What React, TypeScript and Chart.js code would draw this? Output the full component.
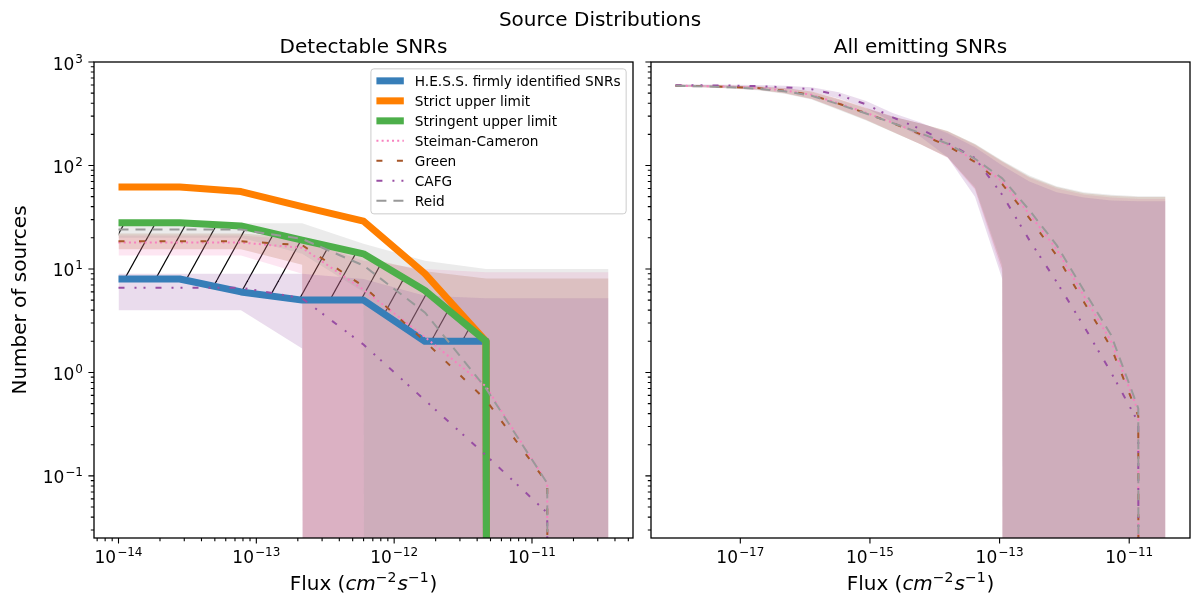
import { useEffect, useRef } from "react";
import { Chart, registerables } from "chart.js";

Chart.register(...registerables);

// ---- Detectable SNRs (left panel) ----
const detFlux = [1.0e-14, 2.78e-14, 7.74e-14, 2.15e-13, 5.99e-13, 1.67e-12, 4.64e-12, 1.29e-11, 3.59e-11];
const hessFirm = [8, 8, 6, 5, 5, 2, 2, 0, 0];
const strictLimit = [62, 62, 56, 40, 29, 9, 2, 0, 0];
const stringentLimit = [28, 28, 26, 19, 14, 6.2, 2, 0, 0];

const detSteiman = [18, 18, 18, 16, 6.3, 2.2, 0.73, 0.085, 0];
const detSteimanLo = [13.5, 13.5, 13.5, 9, 0, 0, 0, 0, 0];
const detSteimanHi = [21, 21, 21, 19, 12, 10, 9.3, 9.3, 9.3];
const detGreen = [18.5, 18.5, 18.5, 17, 6.8, 2.0, 0.54, 0.085, 0];
const detGreenLo = [15.5, 15.5, 15.5, 11, 0, 0, 0, 0, 0];
const detGreenHi = [22, 22, 22, 20, 13, 9.5, 8.1, 8.1, 8.1];
const detCafg = [6.6, 6.6, 6.6, 5.2, 1.86, 0.54, 0.158, 0.044, 0];
const detCafgLo = [4, 4, 4, 1.7, 0, 0, 0, 0, 0];
const detCafgHi = [9, 9, 9, 9, 8, 5.5, 5.2, 5.2, 5.2];
const detReid = [24, 24, 24, 19.5, 10.8, 3.8, 0.7, 0.085, 0];
const detReidLo = [20, 20, 20, 14, 6, 0, 0, 0, 0];
const detReidHi = [27, 27, 27.6, 27.6, 17.5, 12, 10, 10, 10];

// ---- All emitting SNRs (right panel) ----
const allFlux = [
  1.0e-18, 2.63e-18, 6.92e-18, 1.82e-17, 4.79e-17, 1.26e-16, 3.31e-16, 8.71e-16, 2.29e-15, 6.03e-15,
  1.58e-14, 4.17e-14, 1.1e-13, 2.88e-13, 7.59e-13, 2.0e-12, 5.25e-12, 1.38e-11, 3.63e-11,
];
const allSteiman = [590, 585, 577, 562, 532, 482, 398, 323, 258, 203, 158, 112, 70, 34, 15.5, 5.5, 2.0, 0.42, 0];
const allSteimanLo = [578, 570, 560, 540, 502, 442, 352, 278, 212, 160, 118, 58, 9, 0, 0, 0, 0, 0, 0];
const allSteimanHi = [600, 596, 590, 580, 558, 518, 440, 362, 298, 255, 212, 158, 108, 76, 60, 52, 49, 47.5, 47.5];
const allGreen = [590, 585, 575, 560, 530, 480, 395, 320, 255, 200, 155, 108, 66, 31, 13.5, 4.8, 1.75, 0.38, 0];
const allGreenLo = [578, 570, 558, 538, 500, 440, 350, 275, 210, 160, 120, 60, 10, 0, 0, 0, 0, 0, 0];
const allGreenHi = [605, 600, 592, 582, 560, 520, 440, 360, 295, 255, 215, 160, 110, 78, 62, 54, 51, 49.5, 49.5];
const allCafg = [595, 595, 592, 585, 570, 545, 480, 390, 290, 225, 165, 118, 52, 19, 7.5, 2.8, 1.0, 0.33, 0];
const allCafgLo = [582, 580, 576, 568, 548, 515, 445, 360, 260, 190, 120, 50, 8, 0, 0, 0, 0, 0, 0];
const allCafgHi = [608, 606, 604, 600, 590, 570, 510, 420, 320, 260, 205, 150, 100, 70, 55, 49, 46, 45, 45];
const allReid = [588, 582, 570, 553, 522, 472, 390, 318, 256, 205, 162, 116, 75, 37, 17, 6.2, 2.3, 0.45, 0];
const allReidLo = [575, 568, 553, 532, 494, 434, 344, 272, 210, 160, 120, 62, 11, 0, 0, 0, 0, 0, 0];
const allReidHi = [602, 596, 588, 576, 552, 512, 432, 356, 294, 254, 214, 162, 112, 80, 63, 55, 52, 50.5, 50.5];

const Y_MIN = 10 ** -1.6;
const Y_MAX = 1000;

const FONT = '"DejaVu Sans", sans-serif';
const INK = "#000000";

type Series = { mean: number[]; lo: number[]; hi: number[] };

const MODEL_STYLES = [
  { name: "Steiman-Cameron", color: "#f781bf", dash: [2, 3.2] },
  { name: "Green", color: "#a65628", dash: [6, 14.5] },
  { name: "CAFG", color: "#984ea3", dash: [6, 10, 2, 7, 2, 10] },
  { name: "Reid", color: "#999999", dash: [10, 7] },
];

const LIMIT_STYLES = [
  { name: "H.E.S.S. firmly identified SNRs", color: "#377eb8" },
  { name: "Strict upper limit", color: "#ff7f00" },
  { name: "Stringent upper limit", color: "#4daf4a" },
];

const detModels: Series[] = [
  { mean: detSteiman, lo: detSteimanLo, hi: detSteimanHi },
  { mean: detGreen, lo: detGreenLo, hi: detGreenHi },
  { mean: detCafg, lo: detCafgLo, hi: detCafgHi },
  { mean: detReid, lo: detReidLo, hi: detReidHi },
];
const allModels: Series[] = [
  { mean: allSteiman, lo: allSteimanLo, hi: allSteimanHi },
  { mean: allGreen, lo: allGreenLo, hi: allGreenHi },
  { mean: allCafg, lo: allCafgLo, hi: allCafgHi },
  { mean: allReid, lo: allReidLo, hi: allReidHi },
];
const limitSeries = [hessFirm, strictLimit, stringentLimit];

// zero counts behave like matplotlib's log clipping: they plunge off the bottom
const clipLog = (v: number) => (v > 0 ? v : 1e-300);
const toPts = (xs: number[], ys: number[]) => xs.map((x, i) => ({ x, y: clipLog(ys[i]) }));

function hexA(hex: string, a: number) {
  const n = parseInt(hex.slice(1), 16);
  return `rgba(${(n >> 16) & 255},${(n >> 8) & 255},${n & 255},${a})`;
}

const hidden = { borderColor: "rgba(0,0,0,0)", borderWidth: 0, pointRadius: 0, fill: false };

function buildDatasets(flux: number[], models: Series[], hatch: CanvasPattern | null, withLimits: boolean) {
  const list: any[] = [];
  const push = (d: any) => {
    list.push(d);
    return list.length - 1;
  };
  if (withLimits && hatch) {
    const low = push({ data: toPts(flux, hessFirm), ...hidden });
    push({ data: toPts(flux, stringentLimit), ...hidden, fill: { target: low }, backgroundColor: hatch });
  }
  models.forEach((m, i) => {
    const top = push({ data: toPts(flux, m.hi), ...hidden });
    push({
      data: toPts(flux, m.lo),
      ...hidden,
      fill: { target: top },
      backgroundColor: hexA(MODEL_STYLES[i].color, 0.2),
    });
  });
  if (withLimits) {
    limitSeries.forEach((s, i) => {
      push({
        label: LIMIT_STYLES[i].name,
        data: toPts(flux, s),
        borderColor: LIMIT_STYLES[i].color,
        borderWidth: 7,
        borderCapStyle: "butt",
        borderJoinStyle: "round",
        pointRadius: 0,
        fill: false,
      });
    });
  }
  models.forEach((m, i) => {
    push({
      label: MODEL_STYLES[i].name,
      data: toPts(flux, m.mean),
      borderColor: MODEL_STYLES[i].color,
      borderWidth: 2,
      borderDash: MODEL_STYLES[i].dash,
      borderCapStyle: "butt",
      borderJoinStyle: "round",
      pointRadius: 0,
      fill: false,
    });
  });
  // first in list = bottom layer
  const n = list.length;
  list.forEach((d, i) => {
    d.order = n - i;
    d.clip = 0;
  });
  return list;
}

function paddedRange(flux: number[]) {
  const lo = Math.log10(flux[0]);
  const hi = Math.log10(flux[flux.length - 1]);
  const pad = 0.05 * (hi - lo);
  return { min: 10 ** (lo - pad), max: 10 ** (hi + pad) };
}

type Tick = { v: number; major: boolean; exp: number };

function logTicks(min: number, max: number, minors: boolean, keepMajor: (e: number) => boolean = () => true) {
  const out: Tick[] = [];
  const e0 = Math.floor(Math.log10(min));
  const e1 = Math.ceil(Math.log10(max));
  for (let e = e0; e <= e1; e++) {
    for (let m = 1; m <= 9; m++) {
      if (m > 1 && !minors) break;
      if (m === 1 && !keepMajor(e)) continue;
      const v = m * Math.pow(10, e);
      if (v < min * (1 - 1e-9) || v > max * (1 + 1e-9)) continue;
      out.push({ v, major: m === 1, exp: e });
    }
  }
  return out;
}

function drawPow(ctx: CanvasRenderingContext2D, exp: number, x: number, y: number, align: "center" | "right") {
  const sup = exp < 0 ? "\u2212" + Math.abs(exp) : String(exp);
  ctx.font = `17px ${FONT}`;
  const wb = ctx.measureText("10").width;
  ctx.font = `12px ${FONT}`;
  const ws = ctx.measureText(sup).width;
  const total = wb + 1 + ws;
  const x0 = align === "center" ? x - total / 2 : x - total;
  ctx.textAlign = "left";
  ctx.textBaseline = "alphabetic";
  ctx.font = `17px ${FONT}`;
  ctx.fillText("10", x0, y);
  ctx.font = `12px ${FONT}`;
  ctx.fillText(sup, x0 + wb + 1, y - 7);
}

function drawFluxLabel(ctx: CanvasRenderingContext2D, cx: number, baseline: number) {
  const parts = [
    { t: "Flux (", f: `20px ${FONT}`, dy: 0 },
    { t: "cm", f: `italic 20px ${FONT}`, dy: 0 },
    { t: "\u22122", f: `14px ${FONT}`, dy: -8 },
    { t: "s", f: `italic 20px ${FONT}`, dy: 0 },
    { t: "\u22121", f: `14px ${FONT}`, dy: -8 },
    { t: ")", f: `20px ${FONT}`, dy: 0 },
  ];
  let total = 0;
  const widths = parts.map((p) => {
    ctx.font = p.f;
    const w = ctx.measureText(p.t).width + (p.dy ? 1 : 0);
    total += w;
    return w;
  });
  let x = cx - total / 2;
  ctx.textAlign = "left";
  ctx.textBaseline = "alphabetic";
  parts.forEach((p, i) => {
    ctx.font = p.f;
    ctx.fillText(p.t, x, baseline + p.dy);
    x += widths[i];
  });
}

function drawLegend(ctx: CanvasRenderingContext2D, right: number, top: number) {
  const items = [
    ...LIMIT_STYLES.map((s) => ({ name: s.name, color: s.color, width: 7, dash: [] as number[] })),
    ...MODEL_STYLES.map((s) => ({ name: s.name, color: s.color, width: 2, dash: s.dash })),
  ];
  ctx.font = `13.7px ${FONT}`;
  const textW = Math.max(...items.map((it) => ctx.measureText(it.name).width));
  const pad = 5.5;
  const handle = 27.4;
  const gap = 11;
  const w = pad + handle + gap + textW + pad;
  const h = 12 + (items.length - 1) * 20 + 13;
  const left = right - w;
  ctx.save();
  ctx.fillStyle = "rgba(255,255,255,0.8)";
  ctx.strokeStyle = "#cccccc";
  ctx.lineWidth = 1;
  ctx.beginPath();
  if ((ctx as any).roundRect) (ctx as any).roundRect(left, top, w, h, 3);
  else ctx.rect(left, top, w, h);
  ctx.fill();
  ctx.stroke();
  items.forEach((it, i) => {
    const cy = top + 12 + i * 20;
    ctx.strokeStyle = it.color;
    ctx.lineWidth = it.width;
    ctx.lineCap = "butt";
    ctx.setLineDash(it.dash);
    ctx.beginPath();
    ctx.moveTo(left + pad, cy);
    ctx.lineTo(left + pad + handle, cy);
    ctx.stroke();
    ctx.setLineDash([]);
    ctx.fillStyle = INK;
    ctx.font = `13.7px ${FONT}`;
    ctx.textAlign = "left";
    ctx.textBaseline = "alphabetic";
    ctx.fillText(it.name, left + pad + handle + gap, cy + 5);
  });
  ctx.restore();
}

type DecorOpts = {
  subtitle: string;
  suptitle: boolean;
  yLabels: boolean;
  legend: boolean;
  xTicks: (min: number, max: number) => Tick[];
};

function makeDecor(opts: DecorOpts) {
  return {
    id: "decor",
    afterDraw(chart: any) {
      const { ctx, chartArea: a } = chart;
      const xs = chart.scales.x;
      const ys = chart.scales.y;
      ctx.save();
      ctx.strokeStyle = INK;
      ctx.fillStyle = INK;

      // tick marks
      ctx.lineWidth = 1.1;
      ctx.beginPath();
      const yTicks = logTicks(ys.min, ys.max, true);
      yTicks.forEach((t) => {
        const py = ys.getPixelForValue(t.v);
        const len = t.major ? 5.6 : 3.2;
        ctx.moveTo(a.left - len, py);
        ctx.lineTo(a.left, py);
      });
      const xTicks = opts.xTicks(xs.min, xs.max);
      xTicks.forEach((t) => {
        const px = xs.getPixelForValue(t.v);
        const len = t.major ? 5.6 : 3.2;
        ctx.moveTo(px, a.bottom);
        ctx.lineTo(px, a.bottom + len);
      });
      ctx.stroke();

      // frame
      ctx.lineWidth = 1.3;
      ctx.strokeRect(a.left, a.top, a.right - a.left, a.bottom - a.top);

      // tick labels
      if (opts.yLabels) {
        yTicks.filter((t) => t.major).forEach((t) => drawPow(ctx, t.exp, a.left - 11, ys.getPixelForValue(t.v) + 7.5, "right"));
      }
      xTicks.filter((t) => t.major).forEach((t) => drawPow(ctx, t.exp, xs.getPixelForValue(t.v), a.bottom + 25, "center"));

      // axis titles
      const cx = (a.left + a.right) / 2;
      drawFluxLabel(ctx, cx, 590);
      if (opts.yLabels) {
        ctx.save();
        ctx.translate(26, (a.top + a.bottom) / 2);
        ctx.rotate(-Math.PI / 2);
        ctx.font = `20px ${FONT}`;
        ctx.textAlign = "center";
        ctx.textBaseline = "alphabetic";
        ctx.fillText("Number of sources", 0, 0);
        ctx.restore();
      }

      // titles
      ctx.font = `20px ${FONT}`;
      ctx.textAlign = "center";
      ctx.textBaseline = "alphabetic";
      ctx.fillText(opts.subtitle, cx, 53);
      if (opts.suptitle) ctx.fillText("Source Distributions", 600, 26);

      if (opts.legend) drawLegend(ctx, a.right - 6.85, a.top + 6.85);
      ctx.restore();
    },
  };
}

function makeHatch(target: CanvasRenderingContext2D) {
  const w = 31;
  const h = 56;
  const tile = document.createElement("canvas");
  tile.width = w;
  tile.height = h;
  const g = tile.getContext("2d");
  if (!g) return null;
  g.strokeStyle = "#000";
  g.lineWidth = 1.2;
  for (const dx of [-w, 0, w]) {
    g.beginPath();
    g.moveTo(dx, h);
    g.lineTo(dx + w, 0);
    g.stroke();
  }
  return target.createPattern(tile, "repeat");
}

function makeConfig(flux: number[], datasets: any[], padding: any, decor: any) {
  const xr = paddedRange(flux);
  return {
    type: "line" as const,
    data: { datasets },
    options: {
      responsive: false,
      maintainAspectRatio: false,
      animation: false as const,
      events: [],
      layout: { padding },
      scales: {
        x: { type: "logarithmic" as const, display: false, min: xr.min, max: xr.max, bounds: "data" as const },
        y: { type: "logarithmic" as const, display: false, min: Y_MIN, max: Y_MAX, bounds: "data" as const },
      },
      plugins: { legend: { display: false }, tooltip: { enabled: false }, title: { display: false } },
    },
    plugins: [decor],
  };
}

export default function App() {
  const leftRef = useRef<HTMLCanvasElement | null>(null);
  const rightRef = useRef<HTMLCanvasElement | null>(null);

  useEffect(() => {
    const lc = leftRef.current;
    const rc = rightRef.current;
    const lctx = lc?.getContext("2d");
    if (!lc || !rc || !lctx) return;

    const hatch = makeHatch(lctx);

    const left = new Chart(
      lc,
      makeConfig(
        detFlux,
        buildDatasets(detFlux, detModels, hatch, true),
        { left: 94, right: 567, top: 62, bottom: 68 },
        makeDecor({
          subtitle: "Detectable SNRs",
          suptitle: true,
          yLabels: true,
          legend: true,
          xTicks: (min, max) => logTicks(min, max, true),
        })
      ) as any
    );

    const right = new Chart(
      rc,
      makeConfig(
        allFlux,
        buildDatasets(allFlux, allModels, null, false),
        { left: 651, right: 10, top: 62, bottom: 68 },
        makeDecor({
          subtitle: "All emitting SNRs",
          suptitle: false,
          yLabels: false,
          legend: false,
          xTicks: (min, max) => logTicks(min, max, false, (e) => Math.abs(e) % 2 === 1),
        })
      ) as any
    );

    return () => {
      left.destroy();
      right.destroy();
    };
  }, []);

  return (
    <div style={{ position: "fixed", left: 0, top: 0, width: 1200, height: 606, background: "#ffffff" }}>
      <canvas ref={leftRef} width={1200} height={606} style={{ position: "absolute", left: 0, top: 0 }} />
      <canvas ref={rightRef} width={1200} height={606} style={{ position: "absolute", left: 0, top: 0 }} />
    </div>
  );
}
